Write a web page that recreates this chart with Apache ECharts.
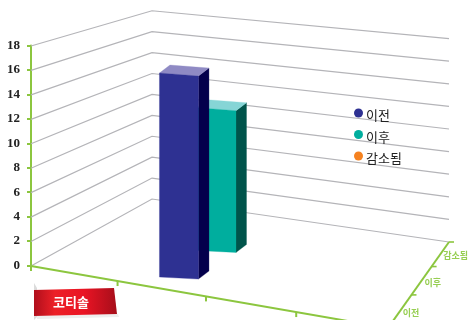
<!DOCTYPE html>
<html>
<head>
<meta charset="utf-8">
<style>html,body{margin:0;padding:0;background:#fff}#chart{width:474px;height:320px}</style>
<script src="https://cdn.jsdelivr.net/npm/echarts@6/dist/echarts.min.js"></script>
</head>
<body>
<div id="chart"></div>
<script>
// Chart data
const categories = ['', '코티솔', '', ''];
const seriesNames = ['이전', '이후', '감소됨'];
const valuesBefore = [null, 16.5, null, null];
const valuesAfter = [null, 12.2, null, null];
const valuesReduced = [null, 0, null, null];
const yTicks = [0, 2, 4, 6, 8, 10, 12, 14, 16, 18];

// Palette: [front face, side face, top face]
const faceColors = [
  ['#2e3192', '#04004c', '#8f8ac4'],
  ['#00ae9e', '#00544b', '#86d5d6'],
  ['#f58220', '#a34f0c', '#f9b57a']
];
const GREEN = '#8cc63f';
const LABEL_GREEN = '#97ce52';
const WALL = '#b4b4b8';
const GRID = { left: 31, top: 45.5, width: 354, height: 220 };

// Floor plane corners on screen: front-left, front-right, back-right, back-left
const FL = [31, 266], FR = [388, 328], BR = [449, 242], BL = [152, 199];

// Square-to-quad perspective map for the floor plane, with the category spacing evened out
const U_EVEN = 0.076;
function makeFloorMap() {
  const dx1 = FR[0] - BR[0], dx2 = BL[0] - BR[0], sx = FL[0] - FR[0] + BR[0] - BL[0];
  const dy1 = FR[1] - BR[1], dy2 = BL[1] - BR[1], sy = FL[1] - FR[1] + BR[1] - BL[1];
  const den = dx1 * dy2 - dx2 * dy1;
  const g = (sx * dy2 - dx2 * sy) / den;
  const h = (dx1 * sy - sx * dy1) / den;
  const a = FR[0] - FL[0] + g * FR[0], b = BL[0] - FL[0] + h * BL[0];
  const d = FR[1] - FL[1] + g * FR[1], e = BL[1] - FL[1] + h * BL[1];
  return (u0, v) => {
    const u = u0 + U_EVEN * u0 * (1 - u0);
    const w = 1 + g * u + h * v;
    return [(a * u + b * v + FL[0]) / w, (d * u + e * v + FL[1]) / w];
  };
}
const floorAt = makeFloorMap();

// Vertical foreshortening: back-left and back-right heights shrink against the front-left wall edge
const depthU = -0.087, depthV = 0.1686;
function heightScale(u, v) {
  return 1 / (1 + depthU * u + depthV * v);
}
function project(u, v, heightPx) {
  const p = floorAt(u, v);
  return [p[0], p[1] - heightPx * heightScale(u, v)];
}

function wallRenderItem(params, api) {
  const h = GRID.top + GRID.height - api.coord([0, api.value(1)])[1];
  return {
    type: 'polyline',
    shape: { points: [project(0, 0, h), project(0, 1, h), project(1, 1, h)] },
    style: { stroke: WALL, lineWidth: 1.2, fill: 'none' },
    silent: true
  };
}

function line(a, b, width) {
  return { type: 'line', shape: { x1: a[0], y1: a[1], x2: b[0], y2: b[1] }, style: { stroke: GREEN, lineWidth: width || 1.6 } };
}

// Floor edges, their tick marks and the depth axis labels
function floorRenderItem() {
  const children = [line(FL, FR, 2), line(BR, FR, 2)];
  for (let i = 0; i < categories.length; i++) {
    const p = floorAt(i / categories.length, 0);
    children.push(line(p, [p[0], p[1] + 5], 2));
  }
  seriesNames.forEach((name, i) => {
    const p = floorAt(1, 1 - i / seriesNames.length);
    const p2 = floorAt(1, 1 - (i + 1) / seriesNames.length);
    children.push(line(p, [p[0] + 5, p[1]], 1.6));
    const t = [(p[0] + p2[0]) / 2, (p[1] + p2[1]) / 2];
    children.push({
      type: 'text',
      style: {
        x: t[0] + 3, y: t[1] + 1.5, text: seriesNames[seriesNames.length - 1 - i],
        fill: LABEL_GREEN, align: 'left', verticalAlign: 'middle',
        font: 'bold 9px "Noto Sans CJK KR"'
      }
    });
  });
  return { type: 'group', children };
}

// Box proportions: front face width and its lean, and the receding offset of the side faces
const BOX_W = 39, LEAN_BASE = 2, LEAN_TOP = 3, RECEDE = [10.5, -8];
const BOX_INSET_U = 0.042, BOX_INSET_V = 0.064;

function barRenderItem(row) {
  return function (params, api) {
    const val = api.value(1);
    if (!val) return null;
    const rect = params.coordSys;
    const topPt = api.coord([api.value(0), val]);
    const basePt = api.coord([api.value(0), 0]);
    const uc = (topPt[0] - rect.x) / rect.width;
    const u = uc - BOX_INSET_U;
    const v = (row + 0.5) / seriesNames.length - BOX_INSET_V;
    const h = (basePt[1] - topPt[1]) * heightScale(u, v);
    const bl = floorAt(u, v);
    const br = [bl[0] + BOX_W, bl[1] + LEAN_BASE];
    const tl = [bl[0], bl[1] - h];
    const tr = [br[0], bl[1] - h + LEAN_TOP];
    const back = (p) => [p[0] + RECEDE[0], p[1] + RECEDE[1]];
    const colors = faceColors[row];
    const poly = (pts, fill) => ({ type: 'polygon', shape: { points: pts }, style: { fill, stroke: fill, lineWidth: 0.3 } });
    return {
      type: 'group',
      children: [
        poly([br, back(br), back(tr), tr], colors[1]),
        poly([tl, tr, back(tr), back(tl)], colors[2]),
        poly([bl, br, tr, tl], colors[0])
      ]
    };
  };
}

const seriesValues = [valuesBefore, valuesAfter, valuesReduced];
const barSeries = seriesNames.map((name, row) => ({
  name,
  type: 'custom',
  z: 5 - row,
  itemStyle: { color: faceColors[row][0] },
  encode: { x: 0, y: 1 },
  renderItem: barRenderItem(row),
  data: seriesValues[row].map((v, i) => [i, v])
}));

const chart = echarts.init(document.getElementById('chart'), null, { renderer: 'canvas' });
chart.setOption({
  animation: false,
  backgroundColor: '#ffffff',
  grid: GRID,
  xAxis: { type: 'category', data: categories, show: false },
  yAxis: {
    type: 'value', min: 0, max: 18, interval: 2,
    axisLine: { show: true, lineStyle: { color: GREEN, width: 2 } },
    axisTick: { show: true, length: 4, lineStyle: { color: GREEN, width: 2 } },
    axisLabel: { color: '#222222', fontFamily: '"Liberation Serif"', fontWeight: 'bold', fontSize: 13, margin: 11 },
    splitLine: { show: false }
  },
  legend: {
    data: seriesNames, orient: 'vertical', left: 349, top: 99, icon: 'circle',
    itemWidth: 9, itemHeight: 9, itemGap: 3.5, selectedMode: false,
    formatter: (name) => '{t|' + name + '}',
    textStyle: {
      rich: {
        t: { color: '#222222', fontFamily: '"Noto Sans CJK KR"', fontSize: 13, lineHeight: 13, padding: [5, 0, 0, -2] }
      }
    }
  },
  series: [
    { type: 'custom', name: 'walls', z: 1, silent: true, renderItem: wallRenderItem, encode: { x: 0, y: 1 }, data: yTicks.map(t => [0, t]) },
    { type: 'custom', name: 'floor', z: 2, silent: true, renderItem: floorRenderItem, encode: { x: 0, y: 1 }, data: [[0, 0]] }
  ].concat(barSeries),
  graphic: [
    // ribbon fold and soft shadow
    { type: 'polygon', z: 10, shape: { points: [[34, 283], [37, 288], [37, 317], [34, 320]] }, style: { fill: '#dcdcdc' } },
    { type: 'polygon', z: 10, shape: { points: [[37, 315], [118, 314], [119, 317], [37, 319]] }, style: { fill: '#eeeeee' } },
    {
      type: 'polygon', z: 11,
      shape: { points: [[34, 290], [114, 288], [117, 314], [34, 316]] },
      style: {
        fill: {
          type: 'linear', x: 0, y: 0, x2: 1, y2: 0,
          colorStops: [
            { offset: 0, color: '#b00f1c' }, { offset: 0.25, color: '#ec2027' },
            { offset: 0.6, color: '#ea1424' }, { offset: 1, color: '#a60e1a' }
          ]
        }
      }
    },
    {
      type: 'text', z: 12, left: 53, top: 296,
      style: { text: '코티솔', fill: '#ffffff', font: 'bold 13px "Noto Sans CJK KR"' }
    }
  ]
});
</script>
</body>
</html>
